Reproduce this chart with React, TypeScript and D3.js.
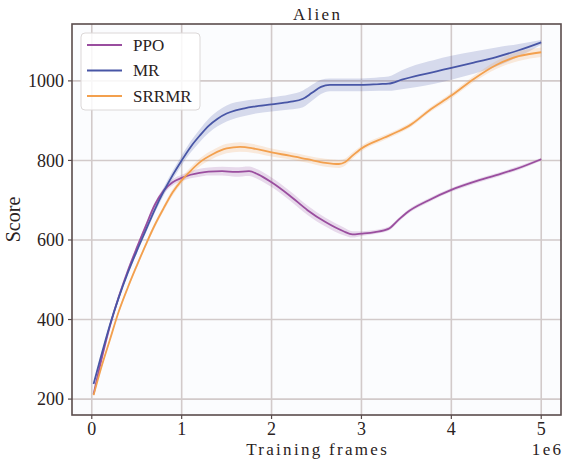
import React from "react";
import * as d3 from "d3";

const xTicks = [0, 1, 2, 3, 4, 5];
const yTicks = [200, 400, 600, 800, 1000];
const seriesNames = ["PPO", "MR", "SRRMR"];
const seriesColors = ["#9a4e9f", "#4856a6", "#f3a04e"];

const ppoX = [0.02, 0.1, 0.2, 0.3, 0.4, 0.5, 0.6, 0.7, 0.8, 0.9, 1.0, 1.1, 1.2, 1.3, 1.45, 1.6, 1.75, 1.85, 2.0, 2.2, 2.4, 2.6, 2.8, 2.9, 3.0, 3.15, 3.3, 3.4, 3.5, 3.75, 4.0, 4.25, 4.5, 4.75, 5.0];
const ppoY = [212, 292, 382, 457, 522, 580, 635, 688, 724, 745, 756, 764, 769, 772, 773, 771, 773, 765, 745, 712, 675, 645, 622, 614, 616, 620, 628, 648, 668, 700, 726, 746, 763, 781, 803];
const ppoS = [3, 4, 5, 5, 5, 5, 6, 6, 7, 8, 8, 9, 10, 10, 11, 12, 12, 12, 12, 12, 12, 11, 10, 8, 6, 5, 5, 5, 5, 5, 5, 5, 5, 5, 4];

const mrX = [0.02, 0.1, 0.2, 0.3, 0.4, 0.5, 0.6, 0.7, 0.8, 0.9, 1.0, 1.1, 1.2, 1.3, 1.4, 1.5, 1.6, 1.7, 1.8, 2.0, 2.2, 2.35, 2.45, 2.55, 2.65, 2.8, 3.0, 3.2, 3.3, 3.45, 3.6, 3.8, 4.0, 4.25, 4.5, 4.75, 5.0];
const mrY = [238, 305, 385, 455, 517, 572, 624, 676, 722, 763, 800, 834, 862, 887, 905, 918, 926, 931, 935, 941, 947, 955, 970, 985, 990, 990, 990, 992, 993, 1003, 1012, 1022, 1033, 1046, 1060, 1077, 1097];
const mrS = [3, 4, 4, 5, 5, 6, 7, 8, 10, 11, 12, 14, 16, 18, 19, 20, 20, 19, 18, 18, 19, 21, 20, 18, 16, 16, 16, 17, 18, 24, 28, 30, 30, 28, 24, 16, 6];

const srX = [0.02, 0.1, 0.2, 0.3, 0.4, 0.5, 0.62, 0.7, 0.8, 0.9, 1.0, 1.1, 1.2, 1.35, 1.5, 1.65, 1.8, 2.0, 2.2, 2.4, 2.6, 2.75, 2.82, 2.9, 3.0, 3.25, 3.4, 3.55, 3.75, 4.0, 4.25, 4.5, 4.75, 5.0];
const srY = [210, 275, 348, 420, 480, 535, 598, 637, 680, 720, 750, 774, 795, 816, 830, 834, 830, 820, 812, 803, 794, 791, 796, 812, 830, 857, 872, 890, 925, 963, 1005, 1040, 1062, 1072];
const srS = [3, 4, 4, 5, 5, 6, 6, 7, 7, 8, 8, 9, 10, 11, 12, 12, 11, 10, 9, 9, 10, 10, 9, 8, 7, 6, 6, 6, 6, 7, 8, 10, 12, 12];

const W = 564;
const H = 462;
const plot = { left: 72, right: 561, top: 24, bottom: 415 };

export default function App() {
  const x = d3.scaleLinear().domain([-0.22, 5.22]).range([plot.left, plot.right]);
  const y = d3.scaleLinear().domain([160, 1143]).range([plot.bottom, plot.top]);

  const series = [
    { xs: ppoX, ys: ppoY, ss: ppoS },
    { xs: mrX, ys: mrY, ss: mrS },
    { xs: srX, ys: srY, ss: srS },
  ];

  const serif = "'Liberation Serif', 'DejaVu Serif', serif";
  const grid = "#d2caca";
  const frame = "#5a4c4c";
  const text = "#2a2222";
  const ls = 2.3;

  return (
    <div style={{ position: "absolute", left: 0, top: 0 }}>
      <svg width={W} height={H} style={{ display: "block", background: "#ffffff" }}>
        <defs>
          <clipPath id="plotclip">
            <rect x={plot.left} y={plot.top} width={plot.right - plot.left} height={plot.bottom - plot.top} />
          </clipPath>
        </defs>
        <rect x={plot.left} y={plot.top} width={plot.right - plot.left} height={plot.bottom - plot.top} fill="#fbfcfe" />
        {xTicks.map((t) => (
          <line key={"gx" + t} x1={x(t)} x2={x(t)} y1={plot.top} y2={plot.bottom} stroke={grid} strokeWidth={1.6} />
        ))}
        {yTicks.map((t) => (
          <line key={"gy" + t} x1={plot.left} x2={plot.right} y1={y(t)} y2={y(t)} stroke={grid} strokeWidth={1.6} />
        ))}
        <g clipPath="url(#plotclip)">
          {series.map((s, i) => {
            const area = d3
              .area<number>()
              .curve(d3.curveMonotoneX)
              .x((_, k) => x(s.xs[k]))
              .y0((_, k) => y(s.ys[k] - s.ss[k]))
              .y1((_, k) => y(s.ys[k] + s.ss[k]));
            return <path key={"a" + i} d={area(s.ys) || ""} fill={seriesColors[i]} fillOpacity={0.2} stroke="none" />;
          })}
          {series.map((s, i) => {
            const l = d3
              .line<number>()
              .curve(d3.curveMonotoneX)
              .x((_, k) => x(s.xs[k]))
              .y((v) => y(v));
            return <path key={"l" + i} d={l(s.ys) || ""} fill="none" stroke={seriesColors[i]} strokeWidth={1.8} />;
          })}
        </g>
        <rect
          x={plot.left}
          y={plot.top}
          width={plot.right - plot.left}
          height={plot.bottom - plot.top}
          fill="none"
          stroke={frame}
          strokeWidth={1.6}
        />
        {xTicks.map((t) => (
          <g key={"tx" + t}>
            <line x1={x(t)} x2={x(t)} y1={plot.bottom} y2={plot.bottom + 4} stroke={frame} strokeWidth={1.2} />
            <text x={x(t)} y={435} textAnchor="middle" fontFamily={serif} fontSize={18} fill={text}>
              {t}
            </text>
          </g>
        ))}
        {yTicks.map((t) => (
          <g key={"ty" + t}>
            <line x1={plot.left - 4} x2={plot.left} y1={y(t)} y2={y(t)} stroke={frame} strokeWidth={1.2} />
            <text x={plot.left - 8} y={y(t)} dy="0.35em" textAnchor="end" fontFamily={serif} fontSize={18} fill={text}>
              {t}
            </text>
          </g>
        ))}
        <text
          x={(plot.left + plot.right) / 2 + ls / 2}
          y={20}
          textAnchor="middle"
          fontFamily={serif}
          fontSize={17}
          letterSpacing={ls}
          fill={text}
        >
          Alien
        </text>
        <text
          x={(plot.left + plot.right) / 2 + ls / 2}
          y={455}
          textAnchor="middle"
          fontFamily={serif}
          fontSize={17}
          letterSpacing={ls}
          fill={text}
        >
          Training frames
        </text>
        <text x={plot.right + ls} y={455} textAnchor="end" fontFamily={serif} fontSize={17} letterSpacing={ls} fill={text}>
          1e6
        </text>
        <text
          transform={`translate(20, ${(plot.top + plot.bottom) / 2}) rotate(-90)`}
          textAnchor="middle"
          fontFamily={serif}
          fontSize={20}
          fill={text}
        >
          Score
        </text>
        <g>
          <rect x={81} y={33} width={119} height={77} rx={4} fill="#ffffff" fillOpacity={0.85} stroke="#dcd8d8" strokeWidth={1} />
          {seriesNames.map((n, i) => (
            <g key={"lg" + n}>
              <line x1={87} x2={122} y1={45 + i * 25.5} y2={45 + i * 25.5} stroke={seriesColors[i]} strokeWidth={1.8} />
              <text x={133} y={45 + i * 25.5} dy="0.35em" fontFamily={serif} fontSize={17} fill={text}>
                {n}
              </text>
            </g>
          ))}
        </g>
      </svg>
    </div>
  );
}
